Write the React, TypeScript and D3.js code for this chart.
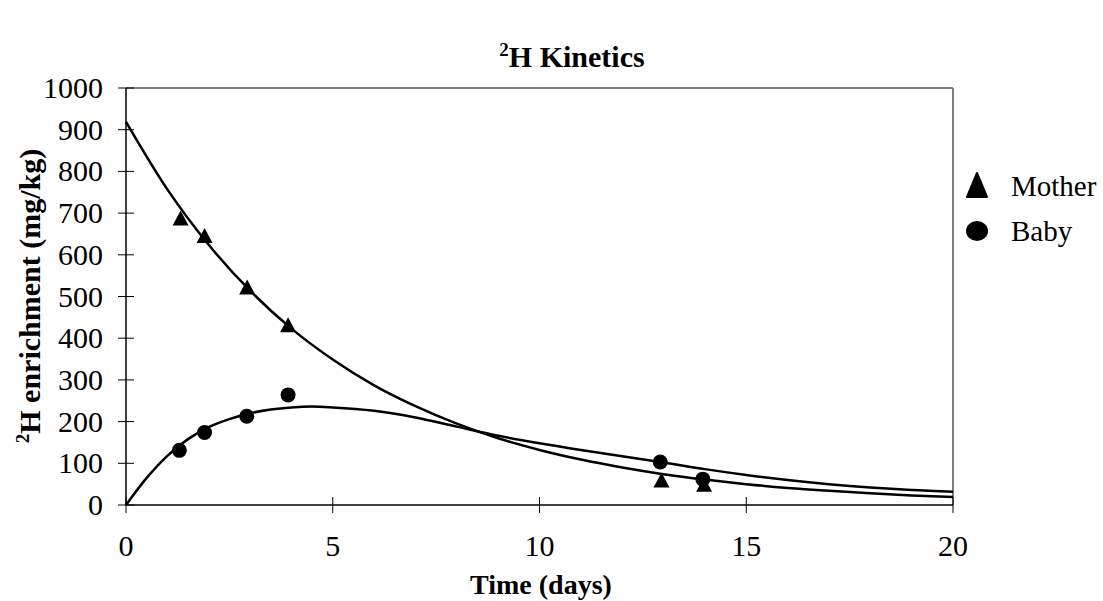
import React from "react";
import * as d3 from "d3";

const motherT = [1.32, 1.9, 2.93, 3.92, 12.95, 13.98];
const motherV = [688, 646, 523, 432, 60, 50];
const babyT = [1.29, 1.9, 2.92, 3.92, 12.92, 13.95];
const babyV = [131, 174, 213, 264, 103, 62];

const motherFitT = [0, 1, 2, 3, 4, 5, 6, 7, 8, 9, 10, 11, 12, 13, 14, 15, 16, 17, 18, 19, 20];
const motherFitV = [919, 757, 624, 514, 423, 349, 287, 237, 195, 160, 132, 109, 90, 74, 61, 50, 41, 34, 28, 23, 19];
const babyFitT = [0, 0.5, 1, 1.5, 2, 2.5, 3, 3.5, 4, 4.5, 5, 6, 7, 8, 9, 10, 11, 12, 13, 14, 15, 16, 17, 18, 19, 20];
const babyFitV = [0, 65, 118, 158, 187, 206, 220, 229, 234, 236, 234, 226, 210, 188, 166, 148, 132, 117, 102, 86, 72, 60, 50, 42, 36, 32];

const xTicks = [0, 5, 10, 15, 20];
const yTicks = [0, 100, 200, 300, 400, 500, 600, 700, 800, 900, 1000];

const W = 1103;
const H = 601;
const L = 126, R = 953, T = 88, B = 505;

export default function App() {
  const x = d3.scaleLinear().domain([0, 20]).range([L, R]);
  const y = d3.scaleLinear().domain([0, 1000]).range([B, T]);
  const line = d3.line<[number, number]>().x(d => x(d[0])).y(d => y(d[1])).curve(d3.curveMonotoneX);
  const mPath = line(motherFitT.map((t, i) => [t, motherFitV[i]] as [number, number])) || "";
  const bPath = line(babyFitT.map((t, i) => [t, babyFitV[i]] as [number, number])) || "";
  const tri = (cx: number, cy: number, w: number, h: number) =>
    `M${cx},${cy - h / 2}L${cx + w / 2},${cy + h / 2}L${cx - w / 2},${cy + h / 2}Z`;
  const font = "'Liberation Serif', 'Times New Roman', serif";
  return (
    <svg width={W} height={H} style={{ position: "absolute", left: 0, top: 0, background: "#fff" }} fontFamily={font}>
      <rect x={0} y={0} width={W} height={H} fill="#fff" />
      <text x={572} y={67} textAnchor="middle" fontSize={30} fontWeight="bold">
        <tspan fontSize={19} dy={-11}>2</tspan><tspan dy={11}>H Kinetics</tspan>
      </text>
      {/* plot border top/right */}
      <line x1={L} y1={T} x2={R} y2={T} stroke="#808080" strokeWidth={2} />
      <line x1={R} y1={T} x2={R} y2={B} stroke="#808080" strokeWidth={2} />
      {/* axes */}
      <line x1={L} y1={T} x2={L} y2={B} stroke="#000" strokeWidth={1.5} />
      <line x1={L} y1={B} x2={R} y2={B} stroke="#000" strokeWidth={1.5} />
      {yTicks.map(v => (
        <g key={"y" + v}>
          <line x1={L - 8} x2={L + 8} y1={y(v)} y2={y(v)} stroke="#000" strokeWidth={1} />
          <text x={103} y={y(v) + 10} textAnchor="end" fontSize={30}>{v}</text>
        </g>
      ))}
      {xTicks.map(v => (
        <g key={"x" + v}>
          <line x1={x(v)} x2={x(v)} y1={B - 8} y2={B + 8} stroke="#000" strokeWidth={1} />
          <text x={x(v)} y={556} textAnchor="middle" fontSize={30}>{v}</text>
        </g>
      ))}
      <text x={541} y={594} textAnchor="middle" fontSize={28} fontWeight="bold">Time (days)</text>
      <text transform={`translate(40,296) rotate(-90)`} textAnchor="middle" fontSize={30} fontWeight="bold">
        <tspan fontSize={19} dy={-11}>2</tspan><tspan dy={11}>H enrichment (mg/kg)</tspan>
      </text>
      <path d={mPath} fill="none" stroke="#000" strokeWidth={2.5} />
      <path d={bPath} fill="none" stroke="#000" strokeWidth={2.5} />
      {motherT.map((t, i) => (
        <path key={"m" + i} d={tri(x(t), y(motherV[i]), 16, 15)} fill="#000" />
      ))}
      {babyT.map((t, i) => (
        <circle key={"b" + i} cx={x(t)} cy={y(babyV[i])} r={7.5} fill="#000" />
      ))}
      {/* legend */}
      <path d={tri(977, 185, 20, 24)} fill="#000" stroke="#000" strokeWidth={2} strokeLinejoin="round" />
      <text x={1011} y={196} fontSize={29}>Mother</text>
      <ellipse cx={977} cy={231} rx={11} ry={10} fill="#000" />
      <text x={1011} y={241} fontSize={29}>Baby</text>
    </svg>
  );
}
